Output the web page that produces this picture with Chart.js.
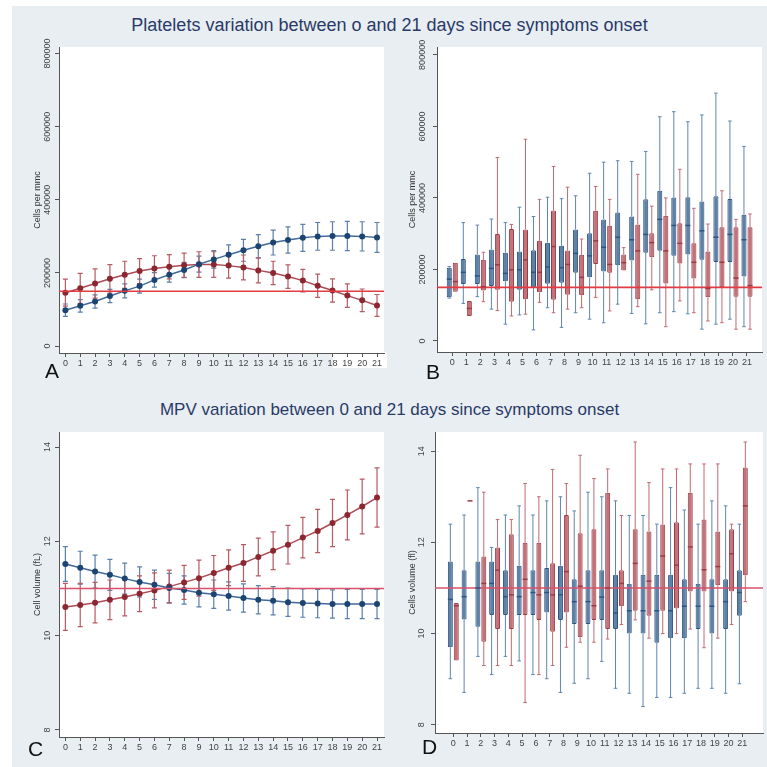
<!DOCTYPE html>
<html>
<head>
<meta charset="utf-8">
<script src="https://cdn.jsdelivr.net/npm/chart.js@4.4.1/dist/chart.umd.min.js"></script>
<style>
  body { margin: 0; width: 767px; height: 767px; background: #fff; position: relative; overflow: hidden;
         font-family: "Liberation Sans", Arial, sans-serif; }
  #bg { position: absolute; left: 12px; top: 6px; right: 0; bottom: 0; background: #e8eef2; }
  .ttl { position: absolute; left: 12px; right: 0; text-align: center; color: #2a3a68; font-size: 18px; line-height: 1; }
  .patch { position: absolute; background: #fff; }
  canvas { position: absolute; }
  .lt { position: absolute; font-size: 21px; color: #111; line-height: 1; }
</style>
</head>
<body>
<div id="bg"></div>
<div class="ttl" style="top:16px">Platelets variation between o and 21 days since symptoms onset</div>
<div class="ttl" style="top:401px;font-size:17px">MPV variation between 0 and 21 days since symptoms onset</div>
<div class="patch" style="left:333px;top:352px;width:54px;height:16px"></div>
<canvas id="chartA" width="376" height="346" style="left:12px;top:37px"></canvas>
<canvas id="chartB" width="377" height="346" style="left:390px;top:37px"></canvas>
<canvas id="chartC" width="376" height="345" style="left:12px;top:422px"></canvas>
<canvas id="chartD" width="377" height="345" style="left:390px;top:422px"></canvas>
<div class="lt" style="left:45px;top:360px">A</div>
<div class="lt" style="left:426px;top:361px">B</div>
<div class="lt" style="left:28px;top:738px">C</div>
<div class="lt" style="left:422px;top:736px">D</div>
<script>
const days = [0,1,2,3,4,5,6,7,8,9,10,11,12,13,14,15,16,17,18,19,20,21];

// panel A: platelets, mean and error half-width (cells per mmc)
const aBlueMean = [98000,110000,122000,137000,151000,164000,181000,195000,208000,224000,237000,250000,262000,273000,283000,290000,296000,300000,301000,301000,300000,297000];
const aBlueErr  = [17000,17000,18000,18000,19000,19000,20000,20000,21000,22000,24000,27000,30000,32000,34000,36000,37000,38000,39000,40000,40000,41000];
const aRedMean  = [146000,158000,171000,184000,195000,205000,212000,217000,221000,223000,223000,220000,215000,207000,200000,190000,179000,165000,152000,138000,125000,111000];
const aRedErr   = [37000,41000,40000,39000,37000,34000,35000,33000,33000,35000,35000,34000,34000,34000,32000,32000,31000,32000,32000,32000,31000,30000];

// panel B: platelets box plots, [min, q1, median, q3, max] in thousands
const bBlue = [[120,122,173,205,208],[105,159,192,229,331],[124,159,182,242,324],[89,154,203,256,341],[47,167,189,247,331],
  [73,143,199,250,374],[31,150,192,254,348],[93,160,207,275,402],[38,163,205,266,398],[79,191,245,312,406],[61,178,238,301,469],
  [51,194,262,340,500],[103,212,290,359,504],[77,225,283,348,502],[48,247,298,396,530],[79,252,340,420,627],[82,238,323,401,641],
  [76,242,323,402,613],[33,227,308,390,632],[47,221,290,405,693],[61,221,298,397,615],[40,180,283,353,544]];
const bRed = [[138,138,166,219,219],[70,70,91,112,112],[110,141,152,227,248],[85,143,213,299,513],[70,110,199,313,326],
  [75,117,227,312,564],[108,136,192,280,396],[79,115,264,365,488],[89,129,214,253,430],[93,128,178,241,285],[122,215,280,364,432],
  [84,191,214,322,396],[197,197,219,242,261],[96,117,252,326,466],[143,234,275,301,377],[40,161,252,350,400],[112,217,273,329,480],
  [79,175,220,273,371],[56,122,147,250,327],[51,150,220,318,420],[33,124,176,318,340],[33,124,155,318,355]];

// panel C: MPV, mean and error half-width (fL)
const cBlueMean = [11.52,11.44,11.36,11.29,11.21,11.14,11.08,11.01,10.97,10.91,10.88,10.84,10.80,10.76,10.74,10.71,10.69,10.68,10.67,10.67,10.67,10.67];
const cBlueErr  = [0.37,0.35,0.35,0.33,0.33,0.32,0.31,0.31,0.30,0.30,0.30,0.30,0.30,0.30,0.30,0.30,0.30,0.30,0.30,0.31,0.31,0.31];
const cRedMean  = [10.61,10.65,10.70,10.76,10.82,10.89,10.96,11.04,11.13,11.22,11.33,11.44,11.54,11.67,11.80,11.93,12.08,12.22,12.39,12.56,12.74,12.93];
const cRedErr   = [0.50,0.46,0.43,0.42,0.40,0.38,0.37,0.35,0.36,0.38,0.37,0.38,0.39,0.40,0.40,0.41,0.43,0.46,0.50,0.53,0.58,0.63];

// panel D: MPV box plots, [min, q1, median, q3, max]
const dBlue = [[9.01,9.70,10.75,11.58,12.40],[8.71,10.31,10.81,11.39,12.60],[9.50,10.15,11.00,11.58,13.20],[9.10,10.41,11.10,11.58,11.89],
  [9.50,10.41,10.81,11.39,12.60],[9.40,10.41,10.81,11.49,12.80],[9.10,10.41,10.90,11.39,12.60],[9.01,10.46,10.90,11.44,12.91],
  [8.71,10.30,10.85,11.49,13.00],[8.91,10.21,10.70,11.19,12.69],[9.01,10.21,10.70,11.39,13.10],[9.39,10.30,10.80,11.39,13.00],
  [8.80,10.10,10.45,11.29,12.91],[8.69,10.00,10.50,11.09,12.59],[8.40,10.00,10.50,11.29,12.59],[8.60,9.80,10.50,11.29,12.40],
  [8.60,9.90,10.50,11.29,13.20],[8.69,9.90,10.60,11.19,12.71],[8.80,10.10,10.60,11.09,12.40],[8.80,10.00,10.60,11.19,12.91],
  [8.69,10.10,10.70,11.19,12.80],[8.90,10.39,10.90,11.39,12.40]];
const dRed = [[9.41,9.41,10.61,10.67,10.67],[12.91,12.91,12.91,12.91,12.91],[9.30,9.82,11.10,11.69,13.10],[9.30,10.10,11.39,11.89,12.50],
  [9.30,10.10,10.85,12.18,12.50],[8.49,10.41,11.19,11.99,13.29],[9.10,10.30,10.85,11.99,13.00],[9.30,10.04,10.85,11.54,13.60],
  [9.70,10.46,11.36,12.60,13.29],[9.81,9.92,11.04,12.20,13.91],[9.81,10.30,10.61,12.29,13.40],[9.88,10.10,11.00,13.09,13.61],
  [10.20,10.60,11.10,11.39,12.59],[10.30,10.50,11.54,12.29,14.20],[9.90,10.39,11.15,12.24,13.31],[10.00,10.50,11.70,12.39,13.61],
  [10.00,10.55,11.50,12.44,13.61],[10.10,10.92,11.90,13.09,13.72],[9.69,10.92,11.40,12.50,13.72],[9.90,11.06,11.47,12.24,13.72],
  [10.20,10.92,11.75,12.29,12.40],[10.70,11.28,12.80,13.64,14.20]];

const plateletTicks = [0, 200000, 400000, 600000, 800000];
const mpvTicks = [8, 10, 12, 14];
const plateletRef = 150000;
const mpvRef = 11;

Chart.defaults.font.family = '"Liberation Sans", Arial, sans-serif';
Chart.defaults.animation = false;

const BLUE = { dot: '#1c4470', line: '#41699a', err: '#5a7fa8', fill: 'rgba(74,112,154,0.88)', edge: '#2b5583', whisk: '#5f86ae' };
const RED  = { dot: '#8c2630', line: '#ad4c56', err: '#b65a63', fill: 'rgba(186,96,103,0.88)', edge: '#9c3a44', whisk: '#c06a72' };

// white plot region, reference line and rotated y labels
function framePlugin(refValue, refColor, labelGap) {
  return {
    id: 'frame',
    beforeDraw(chart) {
      const { ctx, chartArea: a } = chart;
      ctx.save();
      ctx.fillStyle = '#fff';
      ctx.fillRect(a.left, a.top, a.right - a.left, a.bottom - a.top);
      ctx.restore();
    },
    afterDatasetsDraw(chart) {
      const { ctx, chartArea: a } = chart;
      const py = chart.scales.y.getPixelForValue(refValue);
      ctx.save();
      ctx.strokeStyle = refColor;
      ctx.lineWidth = 1.6;
      ctx.beginPath();
      ctx.moveTo(a.left, py);
      ctx.lineTo(a.right, py);
      ctx.stroke();
      ctx.restore();
    },
    afterDraw(chart) {
      const { ctx, chartArea: a } = chart;
      const y = chart.scales.y;
      ctx.save();
      ctx.fillStyle = '#444';
      ctx.font = '9px "Liberation Sans", Arial, sans-serif';
      ctx.textAlign = 'center';
      ctx.textBaseline = 'middle';
      y.ticks.forEach(t => {
        ctx.save();
        ctx.translate(a.left - labelGap, y.getPixelForValue(t.value));
        ctx.rotate(-Math.PI / 2);
        ctx.fillText(String(t.value), 0, 0);
        ctx.restore();
      });
      ctx.restore();
    }
  };
}

// error bars for the mean curves
function errorPlugin(errs, colors) {
  return {
    id: 'errors',
    beforeDatasetsDraw(chart) {
      const { ctx } = chart;
      const y = chart.scales.y;
      errs.forEach((err, di) => {
        const meta = chart.getDatasetMeta(di);
        const ds = chart.data.datasets[di];
        ctx.save();
        ctx.strokeStyle = colors[di];
        ctx.lineWidth = 1.2;
        meta.data.forEach((pt, i) => {
          const m = ds.data[i].y;
          const top = y.getPixelForValue(m + err[i]);
          const bot = y.getPixelForValue(m - err[i]);
          ctx.beginPath();
          ctx.moveTo(pt.x, top); ctx.lineTo(pt.x, bot);
          ctx.moveTo(pt.x - 2.5, top); ctx.lineTo(pt.x + 2.5, top);
          ctx.moveTo(pt.x - 2.5, bot); ctx.lineTo(pt.x + 2.5, bot);
          ctx.stroke();
        });
        ctx.restore();
      });
    }
  };
}

// whiskers and medians for the box plots
function boxPlugin(stats, scale, whisk, edge) {
  return {
    id: 'boxes',
    beforeDatasetsDraw(chart) {
      const { ctx } = chart;
      const y = chart.scales.y;
      stats.forEach((rows, di) => {
        const meta = chart.getDatasetMeta(di);
        ctx.save();
        ctx.strokeStyle = whisk[di];
        ctx.lineWidth = 1;
        meta.data.forEach((bar, i) => {
          const s = rows[i].map(v => y.getPixelForValue(v * scale));
          const x = bar.x;
          ctx.beginPath();
          ctx.moveTo(x, s[4]); ctx.lineTo(x, s[3]);
          ctx.moveTo(x, s[1]); ctx.lineTo(x, s[0]);
          if (rows[i][4] > rows[i][3]) { ctx.moveTo(x - 1.8, s[4]); ctx.lineTo(x + 1.8, s[4]); }
          if (rows[i][0] < rows[i][1]) { ctx.moveTo(x - 1.8, s[0]); ctx.lineTo(x + 1.8, s[0]); }
          ctx.stroke();
        });
        ctx.restore();
      });
    },
    afterDatasetsDraw(chart) {
      const { ctx } = chart;
      const y = chart.scales.y;
      stats.forEach((rows, di) => {
        const meta = chart.getDatasetMeta(di);
        ctx.save();
        ctx.strokeStyle = edge[di];
        ctx.lineWidth = 1.5;
        meta.data.forEach((bar, i) => {
          const py = y.getPixelForValue(rows[i][2] * scale);
          ctx.beginPath();
          ctx.moveTo(bar.x - bar.width / 2, py);
          ctx.lineTo(bar.x + bar.width / 2, py);
          ctx.stroke();
        });
        ctx.restore();
      });
    }
  };
}

function axes(xMin, xMax, yMin, yMax, yTicks, yTitle, yWidth, xHeight, titlePad) {
  return {
    x: {
      type: 'linear', min: xMin, max: xMax, offset: false,
      afterBuildTicks: ax => { ax.ticks = days.map(v => ({ value: v })); },
      afterFit: ax => { ax.height = xHeight; },
      grid: { drawOnChartArea: false, drawTicks: true, tickLength: 4, tickColor: '#555', offset: false },
      border: { display: true, color: '#555', width: 1 },
      ticks: { font: { size: 9 }, color: '#444', padding: 1, maxRotation: 0, autoSkip: false,
               callback: v => String(v) }
    },
    y: {
      min: yMin, max: yMax,
      afterBuildTicks: ax => { ax.ticks = yTicks.map(v => ({ value: v })); },
      afterFit: ax => { ax.width = yWidth; },
      grid: { drawOnChartArea: false, drawTicks: true, tickLength: 4, tickColor: '#555' },
      border: { display: true, color: '#555', width: 1 },
      ticks: { display: false },
      title: { display: true, text: yTitle, color: '#333', font: { size: 9 }, padding: { top: titlePad, bottom: 0 } }
    }
  };
}

function lineChart(id, blueMean, blueErr, redMean, redErr, sc, refValue, refColor) {
  const pts = arr => days.map((d, i) => ({ x: d, y: arr[i] }));
  const style = c => ({ borderColor: c.line, borderWidth: 1.5, pointRadius: 3, pointBackgroundColor: c.dot,
                        pointBorderColor: c.dot, pointBorderWidth: 0, tension: 0 });
  new Chart(document.getElementById(id), {
    type: 'line',
    data: { datasets: [
      Object.assign({ data: pts(blueMean) }, style(BLUE)),
      Object.assign({ data: pts(redMean) }, style(RED))
    ] },
    options: {
      responsive: false,
      layout: { padding: { left: 0, right: 1, top: 10, bottom: 0 } },
      plugins: { legend: { display: false }, tooltip: { enabled: false } },
      scales: sc
    },
    plugins: [framePlugin(refValue, refColor, 11), errorPlugin([blueErr, redErr], [BLUE.err, RED.err])]
  });
}

function boxChart(id, blue, red, scale, sc, padRight, refValue, refColor, gap) {
  const boxes = rows => days.map((d, i) => ({ x: d, y: [rows[i][1] * scale, rows[i][3] * scale] }));
  const style = c => ({ backgroundColor: c.fill, borderColor: c.edge, borderWidth: 1, borderSkipped: false,
                        borderRadius: 1, categoryPercentage: 0.86, barPercentage: 0.84 });
  new Chart(document.getElementById(id), {
    type: 'bar',
    data: { datasets: [
      Object.assign({ data: boxes(blue) }, style(BLUE)),
      Object.assign({ data: boxes(red) }, style(RED))
    ] },
    options: {
      responsive: false,
      layout: { padding: { left: 0, right: padRight, top: 10, bottom: 0 } },
      plugins: { legend: { display: false }, tooltip: { enabled: false } },
      scales: sc
    },
    plugins: [framePlugin(refValue, refColor, gap),
              boxPlugin([blue, red], scale, [BLUE.whisk, RED.whisk], [BLUE.edge, RED.edge])]
  });
}

lineChart('chartA', aBlueMean, aBlueErr, aRedMean, aRedErr,
  axes(-0.43, 21.47, -19000, 818000, plateletTicks, 'Cells per mmc', 47, 30, 20),
  plateletRef, '#e23b42');

boxChart('chartB', bBlue, bRed, 1000,
  axes(-1.09, 22.07, -30800, 822000, plateletTicks, 'Cells per mmc', 47, 31, 17),
  5, plateletRef, '#e23b42', 14);

lineChart('chartC', cBlueMean, cBlueErr, cRedMean, cRedErr,
  axes(-0.43, 21.47, 7.85, 14.32, mpvTicks, 'Cell volume (fL)', 47, 30, 20),
  mpvRef, '#d9506a');

boxChart('chartD', dBlue, dRed, 1,
  axes(-1.33, 22.5, 7.82, 14.42, mpvTicks, 'Cells volume (fl)', 45, 34, 17),
  4, mpvRef, '#d9506a', 13);
</script>
</body>
</html>
